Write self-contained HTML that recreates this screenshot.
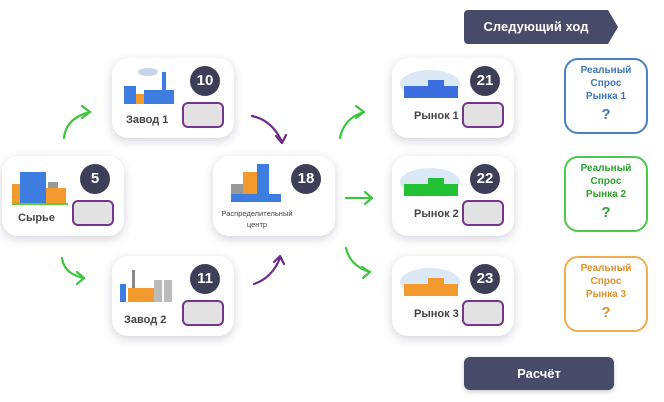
<!DOCTYPE html>
<html><head><meta charset="utf-8"><style>
body{margin:0;width:664px;height:402px;background:#fff;position:relative;overflow:hidden;font-family:"Liberation Sans",sans-serif}
.card{position:absolute;width:122px;height:80px;background:#fff;border-radius:16px;box-shadow:0 3px 10px rgba(60,60,90,.22)}
.num{position:absolute;right:14px;top:8px;width:30px;height:30px;border-radius:50%;background:#3c3f57;color:#fff;font-weight:bold;font-size:15px;text-align:center;line-height:30px}
.inp{position:absolute;right:10px;top:44px;width:38px;height:22px;border:2px solid #74358a;border-radius:6px;background:#e2e2e2}
.lbl{position:absolute;font-size:11px;font-weight:bold;color:#444;}
.dem{position:absolute;left:564px;width:84px;height:76px;border:2px solid;border-radius:14px;text-align:center;font-size:10px;font-weight:bold;line-height:13px;padding-top:4px;box-sizing:border-box}
.dem b{display:block;font-size:15px;margin-top:5px}
.btn{position:absolute;background:#474a68;color:#fff;font-size:13px;font-weight:bold;text-align:center}
</style></head><body>
<div class="btn" style="left:464px;top:10px;width:144px;height:34px;line-height:34px;border-radius:4px 0 0 4px">Следующий ход</div>
<div style="position:absolute;left:608px;top:10px;width:0;height:0;border-top:17px solid transparent;border-bottom:17px solid transparent;border-left:10px solid #474a68"></div>
<div class="btn" style="left:464px;top:357px;width:150px;height:33px;line-height:33px;border-radius:6px;box-shadow:0 2px 5px rgba(0,0,0,.2)">Расчёт</div>

<!-- cards -->
<div class="card" style="left:2px;top:156px">
 <svg style="position:absolute;left:10px;top:14px" width="58" height="36"><rect x="0" y="14" width="8" height="20" fill="#f29a2e"/><rect x="8" y="2" width="26" height="32" fill="#3d7de0"/><rect x="34" y="18" width="20" height="16" fill="#f29a2e"/><rect x="36" y="12" width="10" height="6" fill="#999"/><rect x="0" y="33" width="56" height="2" fill="#6c3"/></svg>
 <div class="lbl" style="left:16px;top:56px">Сырье</div><div class="num">5</div><div class="inp"></div></div>
<div class="card" style="left:112px;top:58px">
 <svg style="position:absolute;left:10px;top:6px" width="58" height="40"><ellipse cx="26" cy="8" rx="10" ry="4" fill="#c8d4ea"/><rect x="2" y="22" width="12" height="18" fill="#3d7de0"/><rect x="14" y="30" width="8" height="10" fill="#f29a2e"/><rect x="22" y="26" width="30" height="14" fill="#3d7de0"/><rect x="40" y="8" width="4" height="18" fill="#3d7de0"/></svg>
 <div class="lbl" style="left:14px;top:56px">Завод 1</div><div class="num">10</div><div class="inp"></div></div>
<div class="card" style="left:112px;top:256px">
 <svg style="position:absolute;left:8px;top:10px" width="60" height="36"><rect x="0" y="18" width="6" height="18" fill="#3d7de0"/><rect x="12" y="4" width="3" height="20" fill="#888"/><rect x="8" y="22" width="30" height="14" fill="#f29a2e"/><rect x="34" y="14" width="8" height="22" fill="#bbb"/><rect x="44" y="14" width="8" height="22" fill="#bbb"/></svg>
 <div class="lbl" style="left:12px;top:58px">Завод 2</div><div class="num">11</div><div class="inp"></div></div>
<div class="card" style="left:213px;top:156px">
 <svg style="position:absolute;left:18px;top:6px" width="52" height="40"><rect x="0" y="22" width="12" height="18" fill="#999"/><rect x="12" y="10" width="14" height="30" fill="#f29a2e"/><rect x="26" y="2" width="12" height="38" fill="#3d7de0"/><rect x="0" y="32" width="50" height="8" fill="#3d7de0"/></svg>
 <div style="position:absolute;left:0;width:88px;top:52px;font-size:7.5px;color:#444;text-align:center;line-height:11px">Распределительный<br>центр</div><div class="num">18</div><div class="inp" style="display:none"></div></div>

<div class="card" style="left:392px;top:58px">
 <svg style="position:absolute;left:8px;top:10px" width="62" height="32"><ellipse cx="30" cy="16" rx="30" ry="14" fill="#dbe9f6"/><rect x="4" y="18" width="54" height="12" fill="#3d6ee0"/><rect x="28" y="12" width="16" height="8" fill="#3d6ee0"/></svg>
 <div class="lbl" style="left:22px;top:52px">Рынок 1</div><div class="num">21</div><div class="inp"></div></div>
<div class="card" style="left:392px;top:156px">
 <svg style="position:absolute;left:8px;top:10px" width="62" height="32"><ellipse cx="30" cy="16" rx="30" ry="14" fill="#dbe9f6"/><rect x="4" y="18" width="54" height="12" fill="#22c033"/><rect x="28" y="12" width="16" height="8" fill="#22c033"/></svg>
 <div class="lbl" style="left:22px;top:52px">Рынок 2</div><div class="num">22</div><div class="inp"></div></div>
<div class="card" style="left:392px;top:256px">
 <svg style="position:absolute;left:8px;top:10px" width="62" height="32"><ellipse cx="30" cy="16" rx="30" ry="14" fill="#dbe9f6"/><rect x="4" y="18" width="54" height="12" fill="#f29a2e"/><rect x="28" y="12" width="16" height="8" fill="#f29a2e"/></svg>
 <div class="lbl" style="left:22px;top:52px">Рынок 3</div><div class="num">23</div><div class="inp"></div></div>

<div class="dem" style="top:58px;border-color:#4a80c4;color:#3f74b8">Реальный<br>Спрос<br>Рынка 1<b>?</b></div>
<div class="dem" style="top:156px;border-color:#4cc94c;color:#2ea02e">Реальный<br>Спрос<br>Рынка 2<b>?</b></div>
<div class="dem" style="top:256px;border-color:#f0ac50;color:#e0902a">Реальный<br>Спрос<br>Рынка 3<b>?</b></div>

<svg style="position:absolute;left:0;top:0" width="664" height="402" fill="none" stroke-width="2.2" stroke-linecap="round" stroke-linejoin="round">
<g stroke="#3fc43f">
<path d="M64 138 Q66 118 90 112"/><path d="M82 106 L90 112 L82 118"/>
<path d="M62 258 Q64 274 84 278"/><path d="M77 272 L84 278 L77 284"/>
<path d="M340 138 Q344 118 364 112"/><path d="M356 106 L364 112 L356 118"/>
<path d="M346 198 L372 198"/><path d="M365 192 L372 198 L365 204"/>
<path d="M346 248 Q350 266 370 272"/><path d="M362 267 L370 272 L363 278"/>
</g>
<g stroke="#6c2a8a">
<path d="M252 116 Q272 120 282 142"/><path d="M276 136 L282 143 L286 135"/>
<path d="M254 284 Q272 278 280 258"/><path d="M274 262 L280 256 L284 264"/>
</g>
</svg>
</body></html>
